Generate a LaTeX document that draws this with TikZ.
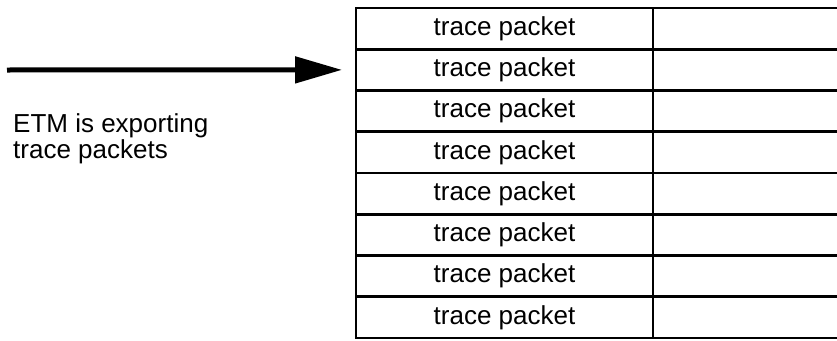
\documentclass[tikz,border=0pt]{standalone}
\usepackage{fontspec}
\setmainfont{Liberation Sans}
\usetikzlibrary{positioning,arrows.meta}

\begin{document}
\begin{tikzpicture}[x=1pt,y=-1pt,
	pkt/.style={rectangle, draw, line width=2.8pt, minimum width=297pt, minimum height=41.25pt, inner sep=0pt, outer sep=0pt, font=\fontsize{26}{26}\selectfont},
	ex/.style={line width=5pt, -{Triangle[length=47pt,width=26pt]}}
	]
	\useasboundingbox (0,0) rectangle (837,340);
	
	\foreach \i in {1,...,8}
	\node[pkt] (p\i) at (504.5,{8+41.25*(\i-0.5)}) {trace packet};
	
	% right column, open at the page edge
	\foreach \i in {1,...,8}
	\draw[line width=2.8pt] (p\i.north east) -- ++(190,0);
	\draw[line width=2.8pt] (p8.south east) -- ++(190,0);
	
	\coordinate (src) at (7,70);
	\draw[ex] (src) -- ([xshift=-14pt]p2.west);
	
	\node[anchor=north west, align=left, inner sep=0pt, font=\fontsize{26}{26.5}\selectfont] (lbl) at (13,113) {ETM is exporting\\trace packets};
	
\end{tikzpicture}
\end{document}
